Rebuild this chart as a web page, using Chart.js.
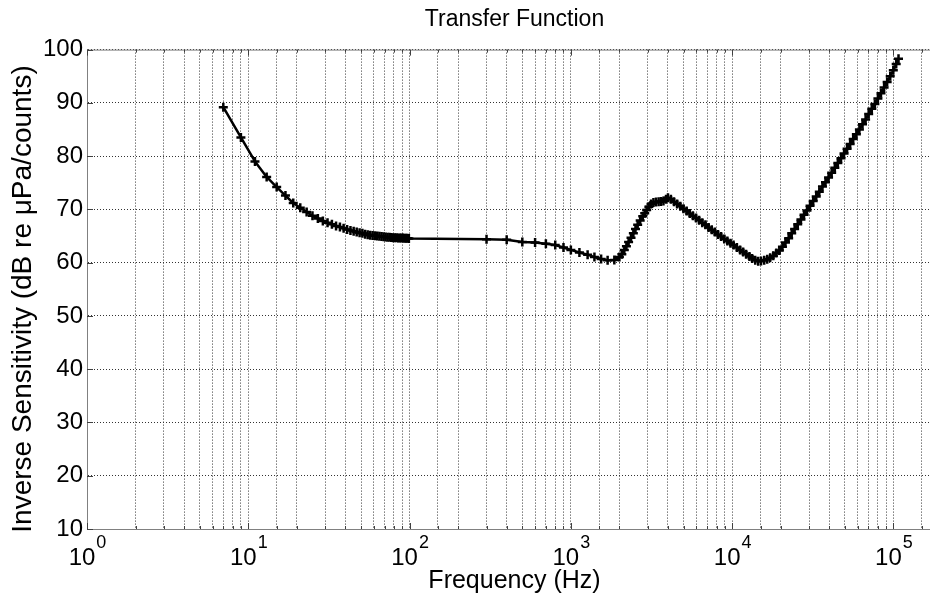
<!DOCTYPE html>
<html lang="en">
<head>
<meta charset="UTF-8">
<title>Transfer Function</title>
<script src="https://cdn.jsdelivr.net/npm/chart.js"></script>
<style>
  html, body { margin: 0; padding: 0; background: #fff; overflow: hidden; }
  #wrap { width: 930px; height: 597px; overflow: hidden; }
</style>
</head>
<body>
<div id="wrap"><canvas id="tf" width="949" height="597"></canvas></div>
<script>
// frequency (Hz) and inverse sensitivity (dB re uPa/counts)
const freqHz = [
  7, 9, 11, 13, 15, 17, 19, 21, 23, 25, 27, 29, 31, 33, 35, 37, 39, 41, 43, 45,
  47, 49, 51, 53, 55, 57, 59, 61, 63, 65, 67, 69, 71, 73, 75, 77, 79, 81, 83, 85,
  87, 89, 91, 93, 95, 97, 99,
  300, 400, 500, 600, 700, 800, 900, 1000, 1130, 1270, 1400, 1540, 1690, 1860,
  2000, 2070, 2145, 2210, 2280, 2360, 2440, 2515, 2595, 2690, 2790, 2870, 2950,
  3045, 3140, 3250, 3370, 3500, 3620, 3750, 3890, 4000,
  4170, 4360, 4560, 4770, 4990, 5220, 5460, 5710, 5970, 6240, 6530, 6830, 7140,
  7470, 7810, 8170, 8540, 8930, 9340, 9770, 10200, 10700, 11200, 11700, 12200,
  12800, 13300, 13900, 14500,
  15100, 15800, 16500, 17200, 18000, 18800, 19600, 20500, 21400, 22400, 23400,
  24400, 25500, 26700, 27900, 29100, 30400, 31800, 33200, 34700, 36300, 37900,
  39600, 41400, 43300, 45200, 47300, 49400, 51600, 53900, 56300, 58900, 61500,
  64300, 67200, 70200, 73400, 76700, 80100, 83700, 87500, 91400, 95500, 99800,
  104000, 107500
];
const invSensDb = [
  89.2, 83.5, 79.0, 76.1, 74.2, 72.6, 71.2, 70.3, 69.5, 68.8, 68.3, 67.8, 67.5, 67.2, 66.9, 66.7, 66.45, 66.25, 66.05, 65.9,
  65.75, 65.6, 65.5, 65.35, 65.25, 65.15, 65.1, 65.05, 65.0, 64.95, 64.9, 64.85, 64.8, 64.78, 64.75, 64.72, 64.7, 64.68, 64.66, 64.65,
  64.63, 64.62, 64.61, 64.6, 64.58, 64.57, 64.55,
  64.4, 64.3, 63.9, 63.8, 63.55, 63.3, 62.85, 62.4, 61.9, 61.5, 61.05, 60.7, 60.45, 60.5,
  61.05, 61.6, 62.4, 63.1, 63.9, 64.7, 65.5, 66.3, 67.1, 67.9, 68.7, 69.3, 69.9,
  70.5, 71.0, 71.3, 71.4, 71.45, 71.5, 71.6, 71.9, 72.2,
  71.9, 71.45, 71.0, 70.6, 70.1, 69.7, 69.25, 68.8, 68.4, 67.95, 67.5, 67.1, 66.6,
  66.2, 65.75, 65.3, 64.9, 64.45, 64.05, 63.65, 63.3, 62.85, 62.4, 62.0, 61.6,
  61.15, 60.8, 60.45, 60.25,
  60.3, 60.45, 60.65, 60.9, 61.3, 61.8, 62.3, 63.0, 63.8, 64.6, 65.5,
  66.3, 67.2, 68.1, 69.0, 69.8, 70.7, 71.6, 72.4, 73.3, 74.3, 75.1,
  76.0, 76.9, 77.8, 78.7, 79.6, 80.5, 81.4, 82.3, 83.2, 84.1, 85.0,
  86.0, 86.9, 87.9, 88.9, 89.8, 90.8, 91.8, 92.9, 93.9, 95.0, 96.1,
  97.3, 98.3
];
const yTicks = [10, 20, 30, 40, 50, 60, 70, 80, 90, 100];
const decadeExp = [0, 1, 2, 3, 4, 5];
const titleText = 'Transfer Function';
const xTitle = 'Frequency (Hz)';
const yTitle = 'Inverse Sensitivity (dB re \u03BCPa/counts)';

const FONT = '"Liberation Sans", Arial, sans-serif';
Chart.defaults.font.family = FONT;
Chart.defaults.color = '#000';

// matlab-ish box, inward ticks, 10^n labels and the y label
const matlabAxes = {
  id: 'matlabAxes',
  afterDraw(chart) {
    const { ctx, chartArea: a, scales: { x, y } } = chart;
    ctx.save();
    ctx.lineWidth = 1;
    ctx.strokeStyle = '#808080';
    ctx.beginPath();
    ctx.moveTo(a.left, a.top + 0.5);
    ctx.lineTo(a.right, a.top + 0.5);
    ctx.stroke();

    ctx.strokeStyle = '#404040';
    ctx.beginPath();
    x.ticks.forEach(t => {
      const p = Math.round(x.getPixelForValue(t.value)) + 0.5;
      const m = t.value / Math.pow(10, Math.floor(Math.log10(t.value) + 1e-9));
      const len = Math.abs(m - 1) < 1e-6 ? 6 : 3;
      ctx.moveTo(p, a.bottom); ctx.lineTo(p, a.bottom - len);
      ctx.moveTo(p, a.top); ctx.lineTo(p, a.top + len);
    });
    yTicks.forEach(v => {
      const p = Math.round(y.getPixelForValue(v)) + 0.5;
      ctx.moveTo(a.left, p); ctx.lineTo(a.left + 6, p);
    });
    ctx.stroke();

    ctx.fillStyle = '#000';
    ctx.textBaseline = 'alphabetic';
    ctx.textAlign = 'left';
    decadeExp.forEach(n => {
      const p = x.getPixelForValue(Math.pow(10, n));
      ctx.font = '24px ' + FONT;
      const wb = ctx.measureText('10').width;
      ctx.font = '18px ' + FONT;
      const we = ctx.measureText(String(n)).width;
      const left = p - (wb + we) / 2;
      ctx.font = '24px ' + FONT;
      ctx.fillText('10', left, 565);
      ctx.font = '18px ' + FONT;
      ctx.fillText(String(n), left + wb + 1, 548);
    });

    ctx.translate(23, 299);
    ctx.rotate(-Math.PI / 2);
    ctx.textAlign = 'center';
    ctx.textBaseline = 'middle';
    ctx.font = '28px ' + FONT;
    ctx.fillText(yTitle, 0, 0);
    ctx.restore();
  }
};

new Chart(document.getElementById('tf'), {
  type: 'line',
  data: {
    datasets: [{
      data: freqHz.map((f, i) => ({ x: f, y: invSensDb[i] })),
      borderColor: '#000',
      borderWidth: 2.5,
      pointStyle: 'cross',
      pointRadius: 4.5,
      pointBorderWidth: 2.5,
      pointBorderColor: '#000',
      borderJoinStyle: 'round',
      tension: 0
    }]
  },
  options: {
    responsive: false,
    animation: false,
    devicePixelRatio: 1,
    layout: { padding: 0 },
    plugins: {
      legend: { display: false },
      tooltip: { enabled: false },
      title: {
        display: true,
        text: titleText,
        fullSize: false,
        font: { size: 23, weight: 'normal' },
        color: '#000',
        padding: { top: 6, bottom: 16 }
      }
    },
    scales: {
      x: {
        type: 'logarithmic',
        min: 1,
        max: 200000,
        ticks: { display: false },
        grid: { color: '#333', lineWidth: 1, drawTicks: false },
        border: { display: true, color: '#808080', dash: [1, 2] },
        title: {
          display: true,
          text: xTitle,
          font: { size: 25 },
          color: '#000',
          padding: { top: 0, bottom: 1 }
        },
        afterFit: s => { s.height = 68; }
      },
      y: {
        type: 'linear',
        min: 10,
        max: 100,
        ticks: { stepSize: 10, padding: 4, font: { size: 24 }, color: '#000' },
        grid: { color: '#333', lineWidth: 1, drawTicks: false },
        border: { display: true, color: '#808080', dash: [1, 2] },
        afterFit: s => { s.width = 87; }
      }
    }
  },
  plugins: [matlabAxes]
});
</script>
</body>
</html>
